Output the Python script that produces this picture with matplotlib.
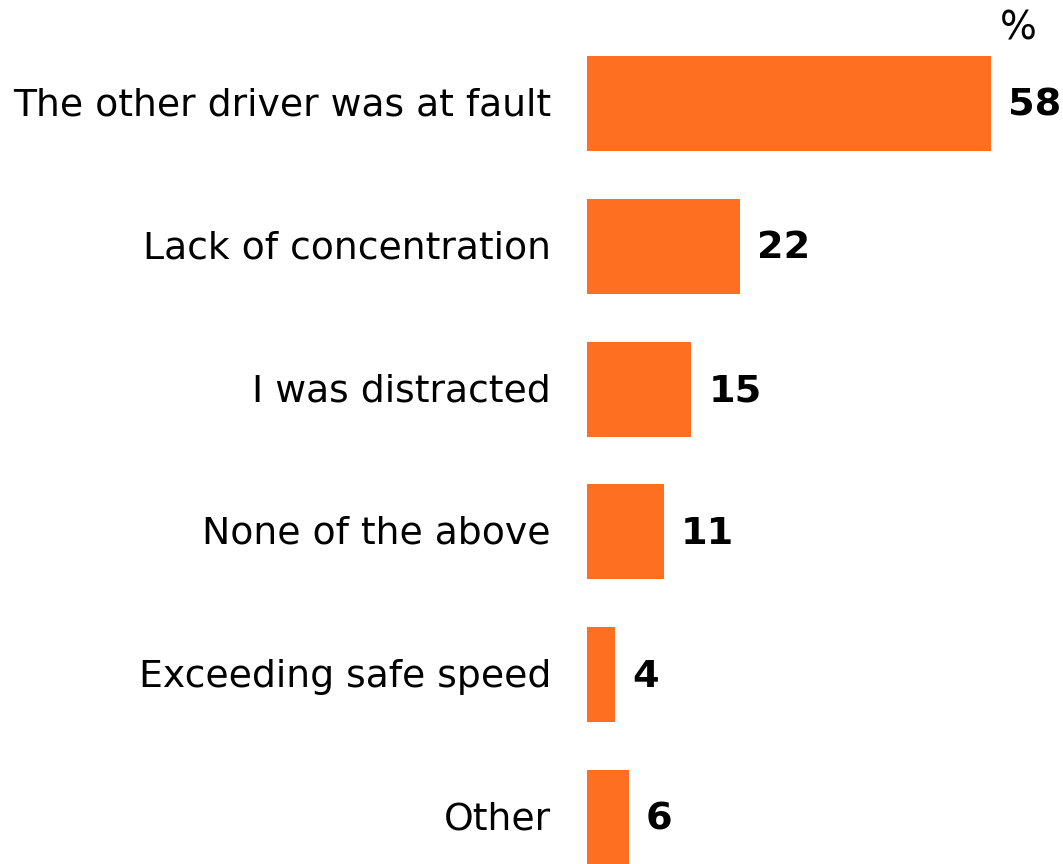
import matplotlib.pyplot as plt

categories = ['The other driver was at fault', 'Lack of concentration',
              'I was distracted', 'None of the above',
              'Exceeding safe speed', 'Other']
values = [58, 22, 15, 11, 4, 6]

bar_color = '#FF6F21'


def main():
    fig = plt.figure(figsize=(10.63, 8.64), dpi=100)
    left = 587 / 1063
    ax = fig.add_axes([left, 0, 1 - left, 1])

    ypos = list(range(len(categories)))
    ax.barh(ypos, values, height=0.665, color=bar_color)

    ax.set_xlim(0, 68.4)
    ax.set_ylim(5.326, -0.725)
    ax.axis('off')

    for y, cat, v in zip(ypos, categories, values):
        ax.annotate(cat, (0, y), xytext=(-36, -2), textcoords='offset pixels',
                    ha='right', va='center', fontsize=27.2, color='black')
        ax.annotate(str(v), (v, y), xytext=(17, -2), textcoords='offset pixels',
                    ha='left', va='center', fontsize=27.5, fontweight='bold',
                    color='black')

    fig.text(1018 / 1063, 1 - 28 / 864, '%', ha='center', va='center',
             fontsize=28, color='black')

    plt.savefig('out.png', dpi=100)


if __name__ == '__main__':
    main()
